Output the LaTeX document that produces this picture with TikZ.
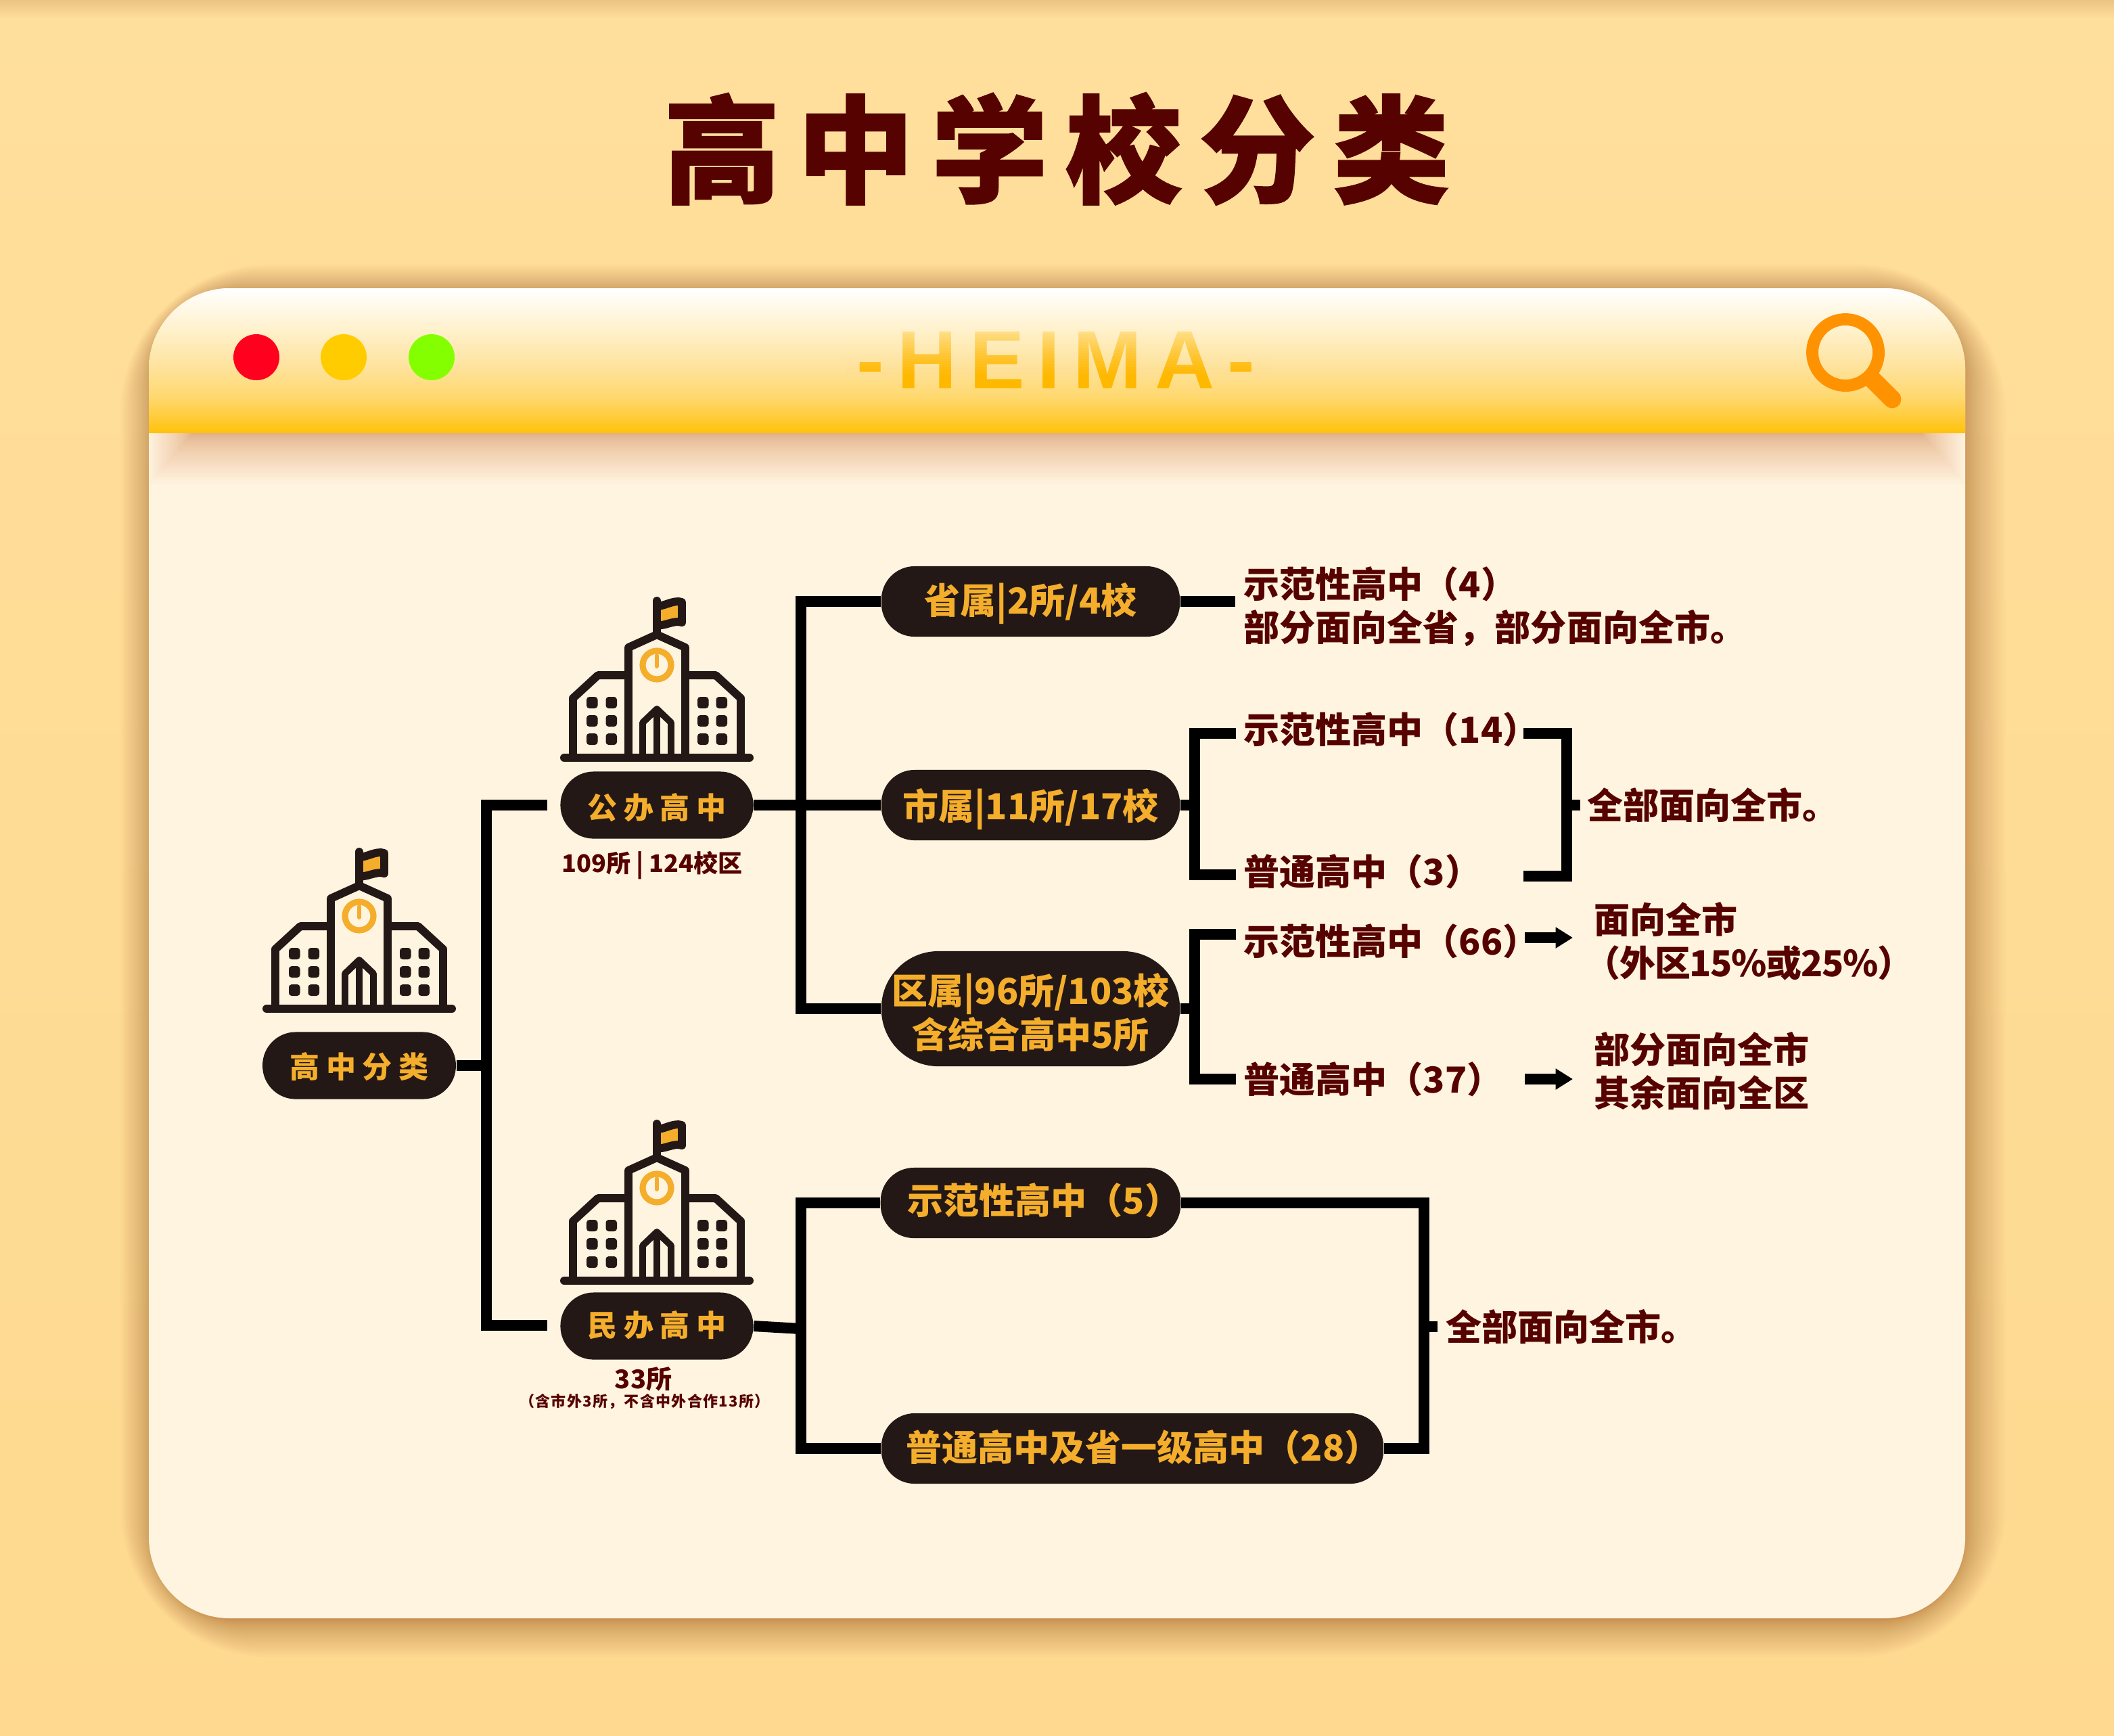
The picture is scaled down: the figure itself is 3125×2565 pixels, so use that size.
\documentclass[tikz,border=0pt]{standalone}
\usepackage{fontspec}
\setmainfont{Noto Sans CJK SC}
\newfontfamily\latinbold{Liberation Sans}
\usetikzlibrary{arrows.meta}
\definecolor{bgc}{HTML}{FFDF9C}
\definecolor{bgd}{HTML}{FED98F}
\definecolor{bodyc}{HTML}{FFF4E0}
\definecolor{pillc}{HTML}{231815}
\definecolor{goldc}{HTML}{F4AE2C}
\definecolor{redt}{HTML}{560200}
\definecolor{shadowc}{HTML}{A8602A}
\definecolor{undershade}{HTML}{D98A50}
\definecolor{heimac}{HTML}{FFB800}
\definecolor{magc}{HTML}{FF9200}
\definecolor{dotr}{HTML}{FF001E}
\definecolor{doty}{HTML}{FFCC00}
\definecolor{dotg}{HTML}{84FF00}
\definecolor{hovert}{HTML}{FFF3D0}
\definecolor{hoverb}{HTML}{FFDE8A}
\pgfdeclareverticalshading{hdrshade}{100bp}{%
  rgb(0bp)=(1,0.761,0.039);
  rgb(25bp)=(1,0.761,0.039);
  rgb(30bp)=(1,0.796,0.208);
  rgb(37.5bp)=(1,0.847,0.435);
  rgb(50bp)=(0.996,0.898,0.647);
  rgb(62.5bp)=(1,0.953,0.824);
  rgb(75bp)=(1,1,1);
  rgb(100bp)=(1,1,1)}
\newcommand{\pxfont}[1]{\fontsize{\the\dimexpr0.28453pt*#1\relax}{\the\dimexpr0.28453pt*#1*121/100\relax}\selectfont\bfseries}
\newcommand{\nudge}[2]{\raisebox{#1}[\height][\depth]{#2}}
\newcommand{\schoolicon}[2]{%
\begin{scope}[shift={(#1,#2)},yscale=-1,draw=pillc,line width=3.4pt,line join=round,line cap=round]
  \draw (-42,122) -- (-87,122) -- (-124,88) -- (-124,0);
  \draw (42,122) -- (87,122) -- (124,88) -- (124,0);
  \draw (-42,0) -- (-42,163) -- (0,182) -- (42,163) -- (42,0);
  \draw[line width=2.8pt] (-21,0) -- (-21,52) -- (0,72) -- (21,52) -- (21,0);
  \draw[line width=2.6pt] (0,0) -- (0,72);
  \draw (-137,0) -- (137,0);
  \draw (0,182) -- (0,232);
  \draw[fill=goldc] (0,224) .. controls (12,224) and (25,234) .. (37,230) -- (37,200) .. controls (25,204) and (12,194) .. (0,196) -- cycle;
  \draw[goldc,line width=2.6pt] (0,137) circle (21);
  \draw[goldc,line width=1.7pt] (0,151) -- (0,135);
  \foreach \wx in {-104,-75.5,60,87.5}{\foreach \wy in {73,46,19}{
    \fill[pillc,rounded corners=1.2pt] (\wx,\wy) rectangle ++(16.5,17);}}
\end{scope}}
\tikzset{
  x=0.01cm,y=-0.01cm,
  conn/.style={draw=black,line width=4.55pt,line cap=butt,line join=miter},
  arrowconn/.style={draw=black,line width=4.8pt,-{Triangle[length=7.2pt,width=8.4pt]}},
  pill/.style={fill=pillc,text=goldc,rounded corners=14pt,inner sep=0pt,minimum height=29.6pt,align=center,font=\pxfont{53}},
  smallpill/.style={pill,minimum height=28.2pt,font=\pxfont{44}\addfontfeature{LetterSpace=22}},
  note/.style={text=redt,inner sep=0pt,anchor=west,align=left,font=\pxfont{53}}
}
\begin{document}
\begin{tikzpicture}
\useasboundingbox (0,0) rectangle (3125,2565);
\shade[top color=bgc,bottom color=bgd] (0,0) rectangle (3125,2565);
\shade[top color=bgc!78!shadowc,bottom color=bgc] (0,0) rectangle (3125,28);
% card shadow
\foreach \k in {1,...,40}{
  \pgfmathsetmacro{\dd}{0.045*\k*\k}
  \pgfmathsetmacro{\rr}{34+0.4*\dd}
  \fill[shadowc,opacity=0.018,rounded corners=\rr pt]
    ({228-0.7*\dd},{434-0.6*\dd}) rectangle ({2900+0.9*\dd},{2392+0.8*\dd});
}
% card body
\fill[bodyc,rounded corners=34pt] (220,426) rectangle (2905,2392);
% shadow under the header
\begin{scope}
  \clip (220,640) rectangle (2905,760);
  \foreach \k in {1,...,36}{
    \pgfmathsetmacro{\dd}{0.05*\k*\k}
    \fill[undershade,opacity=0.023] ({285-\dd},600) rectangle ({2840+\dd},{640+1.15*\dd});
  }
\end{scope}
% header
\path[shading=hdrshade] (220,640) [rounded corners=34pt] -- (220,426) -- (2905,426) [sharp corners] -- (2905,640) -- cycle;
% window dots
\fill[dotr] (379,528) circle (34);
\fill[doty] (508,528) circle (34);
\fill[dotg] (638,528) circle (34);
% magnifier
\draw[magc,line width=5.1pt] (2728,521) circle (49);
\draw[magc,line width=7.6pt,line cap=round] (2768,561) -- (2797,590);
% title
\node[text=redt,inner sep=0pt,font=\pxfont{172}\addfontfeature{LetterSpace=15,FakeBold=1.2}] (title) at (1562,220) {高中学校分类};
% heima
\node[text=heimac,inner sep=0pt,font=\latinbold\pxfont{122}\addfontfeature{LetterSpace=15.5}] (heima) at (1561,532) {-HEIMA-};
\foreach \i in {0,...,18}{
  \pgfmathsetmacro{\pp}{100-\i*100/18}
  \pgfmathsetmacro{\oo}{0.75*(1-\i/18)}
  \fill[hovert!\pp!hoverb,opacity=\oo] (1250,{482+4*\i}) rectangle (1880,{486+4*\i});
}
% icons
\schoolicon{531}{1491}
\schoolicon{971}{1120}
\schoolicon{971}{1893}
% pills
\node[smallpill,minimum width=81.3pt] (root) at (531,1575) {\nudge{-0.5pt}{高中分类}};
\node[smallpill,minimum width=81.1pt] (pub) at (971,1190) {\nudge{-1.1pt}{公办高中}};
\node[smallpill,minimum width=81.1pt] (priv) at (971,1960) {\nudge{0.4pt}{民办高中}};
\node[pill,minimum width=125.5pt] (sheng) at (1523.5,889) {\nudge{-0.8pt}{省属|2所/4校}};
\node[pill,minimum width=125.5pt] (shi) at (1523.5,1190) {\nudge{-1.6pt}{市属|11所/17校}};
\node[pill,minimum width=125.5pt,minimum height=48.4pt,rounded corners=24pt] (qu) at (1523.5,1491) {\nudge{-1.6pt}{区属|96所/103校}\\\nudge{-1.6pt}{含综合高中5所}};
\node[pill,minimum width=125.5pt] (sf) at (1523.5,1778) {\kern11.4pt \nudge{1.1pt}{示范性高中（5）}};
\node[pill,minimum width=211.1pt] (pt) at (1674,2141) {\kern9pt \nudge{0.5pt}{普通高中及省一级高中（28）}};
% small notes
\node[text=redt,inner sep=0pt,font=\pxfont{36}] (n1) at (964,1279) {109所 | 124校区};
\node[text=redt,inner sep=0pt,font=\pxfont{38}] (n2) at (951,2038) {33所};
\node[text=redt,inner sep=0pt,font=\pxfont{22}\addfontfeature{LetterSpace=6}] (n3) at (953,2072) {（含市外3所，不含中外合作13所）};
% right notes
\node[note] (a1) at (1838,897) {示范性高中（4）\\部分面向全省，部分面向全市。};
\node[note] (a2) at (1838,1078) {示范性高中（14）};
\node[note] (a3) at (1838,1288) {普通高中（3）};
\node[note] (a4) at (2346,1190) {全部面向全市。};
\node[note] (a5) at (1838,1391) {示范性高中（66）};
\node[note] (a6) at (1838,1595) {普通高中（37）};
\node[note] (a7) at (2356,1391) {面向全市\\\kern-4pt{\addfontfeature{LetterSpace=-2.5}（外区15\%或25\%）}};
\node[note] (a8) at (2356,1583) {部分面向全市\\其余面向全区};
\node[note] (a9) at (2137,1961) {全部面向全市。};
% connector junctions
\coordinate (tA) at (719,1190);
\coordinate (tB) at (719,1575);
\coordinate (tC) at (719,1959);
\coordinate (pubIn) at (809,1190);
\coordinate (privIn) at (809,1959);
\coordinate (uTop) at (1184,889);
\coordinate (uBot) at (1184,1491);
\coordinate (vTop) at (1184,1778);
\coordinate (vMid) at (1184,1964);
\coordinate (vBot) at (1184,2141);
\coordinate (shengOut) at (1826,889);
\coordinate (bTop) at (1766,1084);
\coordinate (bMid) at (1766,1190);
\coordinate (bBot) at (1766,1293);
\coordinate (bTopEnd) at (1827,1084);
\coordinate (bBotEnd) at (1827,1293);
\coordinate (cTop) at (2252,1084);
\coordinate (cCorner) at (2316,1084);
\coordinate (cBotS) at (2252,1295);
\coordinate (cBot) at (2316,1295);
\coordinate (cMid) at (2316,1190);
\coordinate (cOut) at (2336,1190);
\coordinate (dTop) at (1766,1381);
\coordinate (dMid) at (1766,1491);
\coordinate (dBot) at (1766,1595);
\coordinate (dTopEnd) at (1827,1381);
\coordinate (dBotEnd) at (1827,1595);
\coordinate (r1a) at (2254,1386);
\coordinate (r1b) at (2325,1386);
\coordinate (r2a) at (2254,1595);
\coordinate (r2b) at (2325,1595);
\coordinate (eTop) at (2105,1778);
\coordinate (eBot) at (2105,2141);
\coordinate (eMid) at (2105,1961);
\coordinate (eOut) at (2125,1961);
% connectors
\draw[conn] (root.east) -- (tB);
\draw[conn] (pubIn) -- (tA) -- (tC) -- (privIn);
\draw[conn] (sheng.west) -- (uTop) -- (uBot) -- (qu.west);
\draw[conn] (pub.east) -- (shi.west);
\draw[conn] (sheng.east) -- (shengOut);
\draw[conn] (shi.east) -- (bMid);
\draw[conn] (bTopEnd) -- (bTop) -- (bBot) -- (bBotEnd);
\draw[conn] (cTop) -- (cCorner) -- (cBot) -- (cBotS);
\draw[conn] (cMid) -- (cOut);
\draw[conn] (qu.east) -- (dMid);
\draw[conn] (dTopEnd) -- (dTop) -- (dBot) -- (dBotEnd);
\draw[arrowconn] (r1a) -- (r1b);
\draw[arrowconn] (r2a) -- (r2b);
\draw[conn] (priv.east) -- (vMid);
\draw[conn] (sf.west) -- (vTop) -- (vBot) -- (pt.west);
\draw[conn] (sf.east) -- (eTop) -- (eBot) -- (pt.east);
\draw[conn] (eMid) -- (eOut);
\end{tikzpicture}
\end{document}
